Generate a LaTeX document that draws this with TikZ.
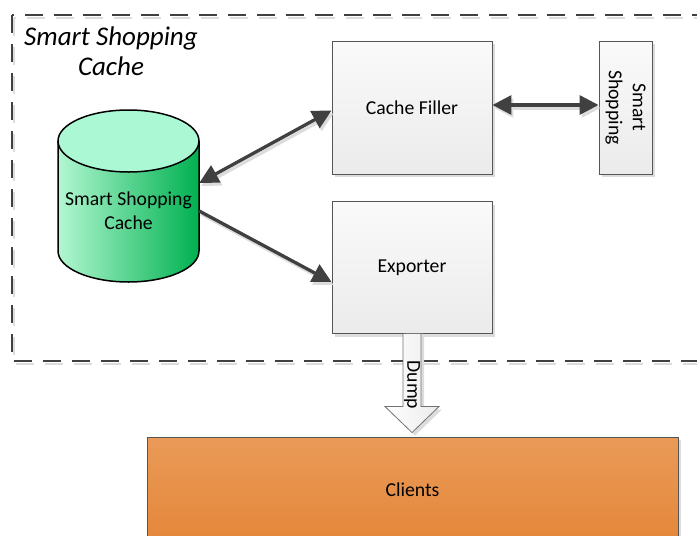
\documentclass[tikz,border=0pt]{standalone}
\usepackage{fontspec}
\setmainfont{Carlito}
\usetikzlibrary{arrows.meta,shadows,calc}

\definecolor{edgegray}{HTML}{404040}
\definecolor{boxline}{HTML}{555555}
\definecolor{boxtop}{HTML}{FAFAFA}
\definecolor{boxbot}{HTML}{EBEBEB}
\definecolor{shadowgray}{HTML}{DCDCDC}
\definecolor{mint}{HTML}{ABF9D4}
\definecolor{greenlight}{HTML}{B2F7D1}
\definecolor{greendark}{HTML}{00B050}
\definecolor{orangetop}{HTML}{EA9A58}
\definecolor{orangebot}{HTML}{E4873A}

\begin{document}
\begin{tikzpicture}[x=1pt,y=1pt,
  lbl/.style={font=\fontsize{19.7}{24}\selectfont, text=black},
  box/.style={lbl, draw=boxline, line width=0.9pt, top color=boxtop, bottom color=boxbot,
    inner sep=0pt, drop shadow={shadow xshift=3pt, shadow yshift=-3pt, fill=shadowgray, opacity=1}},
  frame/.style={draw=edgegray, line width=2.2pt, dash pattern=on 18pt off 11pt},
  frameshadow/.style={draw=shadowgray, line width=2.2pt, dash pattern=on 18pt off 11pt},
  link/.style={draw=edgegray, line width=3.3pt},
  linkshadow/.style={draw=shadowgray, line width=3.3pt},
  head/.tip={Triangle[length=19pt,width=19pt]},
  blockarrow/.style={draw=black!55, line width=0.8pt, left color=white, right color=black!8}
]
\useasboundingbox (0,0) rectangle (697,-536);
\clip (0,0) rectangle (697,-536);

% dashed boundary of the cache subsystem
\draw[frameshadow] (14,-18) rectangle (742,-364);
\draw[frame] (12,-15) rectangle (740,-361);
\node[font=\fontsize{27}{30}\selectfont\itshape, align=center, text=black] (title) at (111,-51) {Smart Shopping\\Cache};

% cache database cylinder
\shade[left color=greenlight, right color=greendark]
  (58,-141) -- (58,-251) arc[start angle=180, end angle=360, x radius=70.5, y radius=31]
  -- (199,-141) arc[start angle=0, end angle=180, x radius=70.5, y radius=31] -- cycle;
\draw[black, line width=1.5pt]
  (58,-141) -- (58,-251) arc[start angle=180, end angle=360, x radius=70.5, y radius=31]
  -- (199,-141);
\draw[black, line width=1.5pt, fill=mint] (128.5,-141) ellipse[x radius=70.5, y radius=31];
\node[lbl, align=center, minimum width=141pt, inner sep=0pt] (cache) at (128.5,-211) {Smart Shopping\\Cache};

% components
\node[box, minimum width=160pt, minimum height=133pt] (filler) at (412,-107.5) {Cache Filler};
\node[box, minimum width=160pt, minimum height=132pt] (exporter) at (412,-267.5) {\raisebox{-2pt}{Exporter}};
\node[box, minimum width=53pt, minimum height=133pt] (shop) at (625.5,-107.5) {};
\node[lbl, rotate=-90, align=center] (shoptext) at (shop.center) {Smart\\Shopping};
\node[box, top color=orangetop, bottom color=orangebot, minimum width=531pt, minimum height=106pt] (clients) at (412.5,-490) {Clients};

% connectors (shadow first, then the line)
\draw[linkshadow, {head}-{head}] ($([yshift=2.5pt]filler.east)+(2,-3)$) -- ($([yshift=2.5pt]shop.west)+(2,-3)$);
\draw[link, {head}-{head}] ([yshift=2.5pt]filler.east) -- ([yshift=2.5pt]shop.west);
\draw[linkshadow, {head}-{head}] ($([yshift=-3pt]filler.west)+(2,-3)$) -- ($([yshift=28pt]cache.east)+(2,-3)$);
\draw[link, {head}-{head}] ([yshift=-3pt]filler.west) -- ([yshift=28pt]cache.east);
\draw[linkshadow, -{head}] ($(cache.east)+(2,-3)$) -- ($([yshift=-14.5pt]exporter.west)+(2,-3)$);
\draw[link, -{head}] (cache.east) -- ([yshift=-14.5pt]exporter.west);

% block arrow from the exporter down to the clients
\coordinate (tip) at ($(clients.north)+(-0.5,4)$);
\fill[shadowgray] ($(exporter.south)+(12,0)$) -- ($(tip)+(12,23)$) -- ($(tip)+(30,23)$)
  -- ($(tip)+(3,-3)$) -- ($(tip)+(-24,23)$) -- ($(tip)+(-6,23)$) -- ($(exporter.south)+(-6,0)$) -- cycle;
\draw[blockarrow] ($(exporter.south)+(-9,0)$) -- ($(tip)+(-9,26)$) -- ($(tip)+(-27,26)$)
  -- (tip) -- ($(tip)+(27,26)$) -- ($(tip)+(9,26)$) -- ($(exporter.south)+(9,0)$);
\node[lbl, rotate=-90, inner sep=0pt] (dump) at ($(exporter.south)+(0,-51)$) {Dump};
\end{tikzpicture}
\end{document}
